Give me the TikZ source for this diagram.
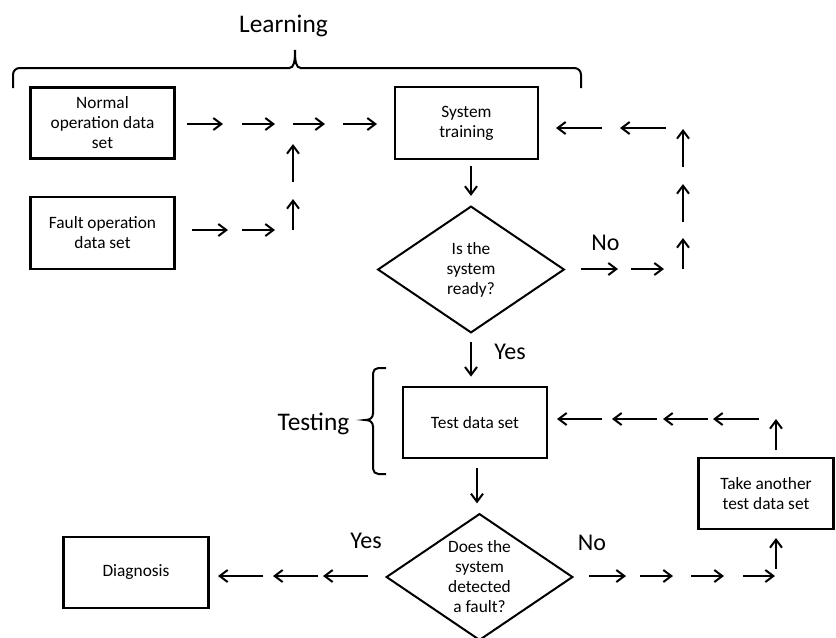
\documentclass[tikz,border=0pt]{standalone}
\usepackage{fontspec}
\setmainfont{Carlito}
\usepackage{tikz}
\usetikzlibrary{arrows.meta}
\usetikzlibrary{shapes.geometric}

\tikzset{
  boite/.style={draw, line width=1.8pt, align=center, inner sep=0pt,
    minimum width=108pt, minimum height=53pt, font=\fontsize{13}{15}\selectfont},
  losange/.style={draw, diamond, aspect=1.48, line width=1.5pt, inner sep=0pt,
    minimum width=140pt, minimum height=95pt, align=center, font=\fontsize{13}{15}\selectfont},
  fl/.style={line width=1.5pt, -{Straight Barb[length=6pt,width=9pt]}},
  etiq/.style={font=\fontsize{18}{20}\selectfont, anchor=base},
  titre/.style={font=\fontsize{19}{22}\selectfont, anchor=base},
  accol/.style={line width=1.5pt}
}

\begin{document}
\begin{tikzpicture}[x=0.75pt, y=-0.75pt]
        \useasboundingbox (0,0) rectangle (836,637);

        % Boites rectangulaires
        \node[boite] (normal) at (102.5,123) {Normal\\operation data\\set};
        \node[boite, minimum height=54pt] (fault) at (102.5,233) {Fault operation\\data set};
        \node[boite, minimum width=107pt, minimum height=54pt] (train) at (466.5,123) {System\\training};
        \node[boite] (test) at (475,422.5) {Test data set};
        \node[boite, minimum width=101pt] (other) at (766,493.5) {Take another\\test data set};
        \node[boite, minimum width=109pt] (diag) at (136,572.5) {Diagnosis};

        % Losanges de decision
        \node[losange] (ready) at (471,269.5) {Is the\\system\\ready?};
        \node[losange] (detect) at (479.5,577) {Does the\\system\\detected\\a fault?};

        % Accolades
        \draw[accol, rounded corners=5pt] (13,88) -- (13,68) -- (290,68);
        \draw[accol, rounded corners=5pt] (300,68) -- (581,68) -- (581,88);
        \draw[accol] (289,68) .. controls (294,68) and (295,62) .. (295,50)
          .. controls (295,62) and (296,68) .. (301,68);
        \draw[accol, rounded corners=4pt] (386,368) -- (373,368) -- (373,414);
        \draw[accol, rounded corners=4pt] (373,426) -- (373,474) -- (386,474);
        \draw[accol] (373,413) .. controls (373,418) and (370,420) .. (365,420)
          .. controls (370,420) and (373,422) .. (373,427);

        % Textes
        \node[titre] (learn) at (283.5,32) {Learning};
        \node[titre] (testing) at (313.5,430) {Testing};
        \node[etiq] (yes1) at (510,359) {Yes};
        \node[etiq] (no1) at (605.5,250) {No};
        \node[etiq] (yes2) at (366,548) {Yes};
        \node[etiq] (no2) at (592,550) {No};

        % Fleches verticales simples
        \draw[fl] ([yshift=-4pt]ready.north |- train.south) -- ([yshift=7pt]ready.north);
        \draw[fl] ([yshift=-6pt]ready.south) -- ([yshift=7pt]test.north -| ready.south);
        \draw[fl] ([yshift=-7pt]test.south -| 477,0) -- ([yshift=7pt]detect.north -| 477,0);

        % Chaines de fleches : donnees vers apprentissage
        \foreach \a/\b in {187/223, 242/275, 293/325, 343/377}
          \draw[fl] (\a,124) -- (\b,124);
        \foreach \a/\b in {192/228, 242/275}
          \draw[fl] (\a,230) -- (\b,230);
        \foreach \a/\b in {230/199, 182/144}
          \draw[fl] (293,\a) -- (293,\b);

        % Boucle "No" vers l'apprentissage
        \foreach \a/\b in {581/618, 631/664}
          \draw[fl] (\a,269) -- (\b,269);
        \foreach \a/\b in {269/238, 222/184, 167/129}
          \draw[fl] (683,\a) -- (683,\b);
        \foreach \a/\b in {666/620, 602/556}
          \draw[fl] (\a,128) -- (\b,128);

        % Boucle "No" vers un autre jeu de test
        \foreach \a/\b in {589/626, 640/673, 691/724, 743/775}
          \draw[fl] (\a,576) -- (\b,576);
        \draw[fl] (776,569) -- (776,538);
        \draw[fl] (776,450) -- (776,419);
        \foreach \a/\b in {759/713, 708/663, 657/612, 602/557}
          \draw[fl] (\a,419) -- (\b,419);

        % Sortie "Yes" vers le diagnostic
        \foreach \a/\b in {368/323, 318/273, 263/218}
          \draw[fl] (\a,576) -- (\b,576);
    \end{tikzpicture}
\end{document}
